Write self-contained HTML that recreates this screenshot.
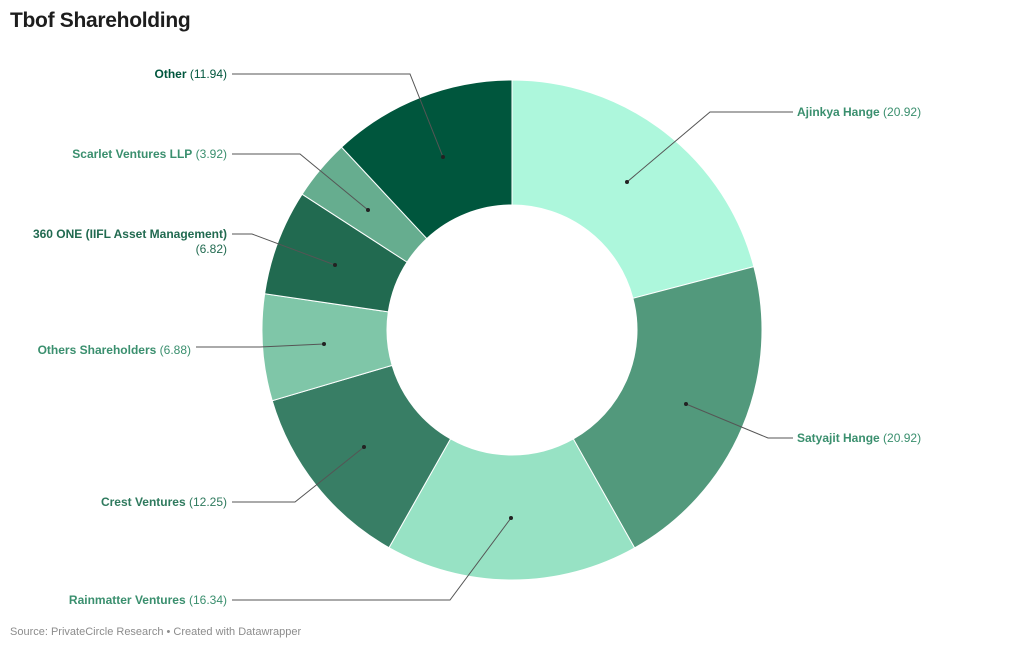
<!DOCTYPE html>
<html><head><meta charset="utf-8"><style>
body{margin:0;background:#fff;width:1024px;height:650px;overflow:hidden;font-family:"Liberation Sans",sans-serif}
.t{position:absolute;left:10px;top:9px;font-size:21px;font-weight:bold;color:#1d1d1d;letter-spacing:-0.3px}
.s{position:absolute;left:10px;top:626px;font-size:11px;color:#8c8c8c}
svg{position:absolute;left:0;top:0}
text{font-size:12px;font-family:"Liberation Sans",sans-serif}
.b{font-weight:bold}
</style></head><body>
<div class="t">Tbof Shareholding</div>
<svg width="1024" height="650" id="sv">
<g id="slices"></g>
<g stroke="#555" stroke-width="1" fill="none">
<polyline points="232,74 410,74 443,157"/>
<polyline points="232,154 300,154 368,210"/>
<polyline points="232,234 252,234 335,265"/>
<polyline points="196,347 260,347 324,344"/>
<polyline points="232,502 295,502 364,447"/>
<polyline points="232,600 450,600 511,518"/>
<polyline points="793,112 710,112 627,182"/>
<polyline points="793,438 768,438 686,404"/>
</g>
<g fill="#222">
<circle cx="443" cy="157" r="2"/><circle cx="368" cy="210" r="2"/><circle cx="335" cy="265" r="2"/><circle cx="324" cy="344" r="2"/><circle cx="364" cy="447" r="2"/><circle cx="511" cy="518" r="2"/><circle cx="627" cy="182" r="2"/><circle cx="686" cy="404" r="2"/>
</g>
<g text-anchor="end">
<text x="227" y="78" fill="#00563d"><tspan class="b">Other</tspan> (11.94)</text>
<text x="227" y="158" fill="#3a8f6e"><tspan class="b">Scarlet Ventures LLP</tspan> (3.92)</text>
<text x="227" y="238" fill="#216a50"><tspan class="b">360 ONE (IIFL Asset Management)</tspan></text>
<text x="227" y="253" fill="#216a50">(6.82)</text>
<text x="191" y="354" fill="#3a8f6e"><tspan class="b">Others Shareholders</tspan> (6.88)</text>
<text x="227" y="506" fill="#2f7a5e"><tspan class="b">Crest Ventures</tspan> (12.25)</text>
<text x="227" y="604" fill="#3a8f6e"><tspan class="b">Rainmatter Ventures</tspan> (16.34)</text>
</g>
<text x="797" y="116" fill="#3a8f6e"><tspan class="b">Ajinkya Hange</tspan> (20.92)</text>
<text x="797" y="442" fill="#3a8f6e"><tspan class="b">Satyajit Hange</tspan> (20.92)</text>
</svg>
<div class="s">Source: PrivateCircle Research • Created with Datawrapper</div>
<script>
var d=[[20.92,"#adf7dc"],[20.92,"#52997c"],[16.34,"#97e2c4"],[12.25,"#387e65"],[6.88,"#7fc6a8"],[6.82,"#216a50"],[3.92,"#66ad8f"],[11.94,"#00563d"]];
var tot=0;d.forEach(function(x){tot+=x[0]});
var cx=512,cy=330,R=250,r=125,a=0,h="";
function p(rad,ang){return (cx+rad*Math.sin(ang)).toFixed(2)+","+(cy-rad*Math.cos(ang)).toFixed(2)}
d.forEach(function(x){var a2=a+x[0]/tot*2*Math.PI;var l=(a2-a)>Math.PI?1:0;
h+='<path fill="'+x[1]+'" stroke="#fff" stroke-width="1" d="M'+p(R,a)+' A'+R+','+R+' 0 '+l+' 1 '+p(R,a2)+' L'+p(r,a2)+' A'+r+','+r+' 0 '+l+' 0 '+p(r,a)+' Z"/>';a=a2;});
document.getElementById("slices").innerHTML=h;
</script>
</body></html>
